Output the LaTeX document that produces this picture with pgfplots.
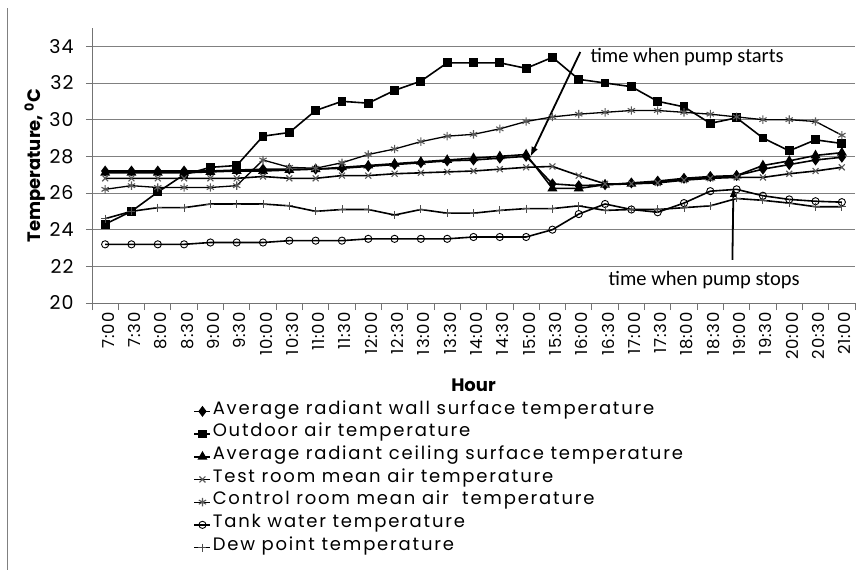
\documentclass[border=0pt]{standalone}
\usepackage{fontspec}
\setmainfont{Poppins}
\newfontfamily\calibri{Carlito}
\newfontfamily\legfont[LetterSpace=10]{Poppins}
\newfontfamily\tickfont[LetterSpace=5]{Poppins}
\usepackage{pgfplots}
\pgfplotsset{compat=1.18}
\usetikzlibrary{arrows.meta}

\pgfplotstableread{
i wall outdoor ceiling test control tank dew
0  27.20 24.30 27.10 26.80 26.20 23.20 24.60
1  27.20 25.00 27.10 26.80 26.40 23.20 25.00
2  27.20 26.05 27.10 26.80 26.30 23.20 25.20
3  27.20 27.00 27.10 26.80 26.30 23.20 25.20
4  27.20 27.40 27.15 26.80 26.30 23.30 25.40
5  27.25 27.50 27.20 26.80 26.40 23.30 25.40
6  27.30 29.10 27.20 26.90 27.80 23.30 25.40
7  27.30 29.30 27.25 26.80 27.40 23.40 25.30
8  27.30 30.50 27.30 26.80 27.35 23.40 25.00
9  27.35 31.00 27.40 26.95 27.65 23.40 25.10
10 27.45 30.90 27.50 26.95 28.10 23.50 25.10
11 27.55 31.60 27.60 27.05 28.40 23.50 24.80
12 27.65 32.10 27.70 27.10 28.80 23.50 25.10
13 27.75 33.10 27.80 27.15 29.10 23.50 24.90
14 27.80 33.10 27.90 27.20 29.20 23.60 24.90
15 27.90 33.10 28.00 27.30 29.50 23.60 25.05
16 28.00 32.80 28.10 27.40 29.90 23.60 25.15
17 26.50 33.40 26.25 27.45 30.15 24.00 25.15
18 26.40 32.20 26.25 26.95 30.30 24.85 25.30
19 26.45 32.00 26.45 26.50 30.40 25.40 25.05
20 26.55 31.80 26.50 26.50 30.50 25.10 25.10
21 26.65 31.00 26.60 26.55 30.50 24.95 25.10
22 26.80 30.70 26.75 26.70 30.40 25.45 25.20
23 26.90 29.80 26.85 26.80 30.30 26.10 25.30
24 26.95 30.10 26.95 26.85 30.15 26.20 25.70
25 27.30 29.00 27.50 26.85 30.00 25.85 25.60
26 27.55 28.30 27.75 27.05 30.00 25.65 25.45
27 27.80 28.90 28.05 27.20 29.90 25.55 25.25
28 27.95 28.70 28.20 27.40 29.15 25.50 25.25
}\datatable

\begin{document}
\begin{tikzpicture}
\useasboundingbox (0bp,0bp) rectangle (862bp,570bp);
\draw[black!50, line width=1bp] (7bp,0bp) -- (7bp,562bp);
\begin{axis}[
  at={(92bp,267bp)}, anchor=south west,
  scale only axis, width=763bp, height=275bp,
  xmin=-0.5, xmax=28.5, ymin=20, ymax=35,
  axis x line*=bottom, axis y line*=left,
  axis line style={black!55, line width=0.9bp},
  ytick={20,22,...,34},
  ymajorgrids, grid style={black!50, line width=0.9bp},
  xtick={0,...,28},
  xticklabels={7:00,7:30,8:00,8:30,9:00,9:30,10:00,10:30,11:00,11:30,12:00,12:30,13:00,13:30,14:00,14:30,15:00,15:30,16:00,16:30,17:00,17:30,18:00,18:30,19:00,19:30,20:00,20:30,21:00},
  minor xtick={-0.5,0.5,...,28.5},
  tick align=outside,
  major tick length=6bp, minor tick length=7bp,
  major x tick style={draw=none},
  minor x tick style={black!55, line width=0.9bp},
  major y tick style={black!55, line width=0.9bp},
  /pgf/number format/assume math mode=true,
  yticklabel style={font=\tickfont\fontsize{19bp}{21bp}\selectfont, xshift=-9bp},
  xticklabel style={font=\tickfont\fontsize{16.5bp}{18bp}\selectfont, rotate=90, anchor=east, yshift=-3bp},
  ylabel={\textbf{Temperature, \textsuperscript{0}C}},
  ylabel style={font=\fontsize{18bp}{20bp}\selectfont, at={(axis description cs:-0.075,0.5)}, anchor=center, rotate=0},
  xlabel={\textbf{Hour}},
  xlabel style={font=\fontsize{18bp}{20bp}\selectfont, at={(axis description cs:0.5,-0.300)}, anchor=center},
  legend style={draw=none, fill=none, at={(axis description cs:0.133,-0.352)}, anchor=north west,
    font=\legfont\fontsize{18bp}{20bp}\selectfont, inner sep=0pt, row sep=0pt,
    nodes={inner xsep=1.5bp, inner ysep=0pt, text height=14bp, text depth=8.7bp}},
  legend cell align=left,
  legend image code/.code={\draw[mark repeat=2,mark phase=2,#1] plot coordinates {(0bp,0bp) (8bp,0bp) (16bp,0bp)};},
  every axis plot/.append style={black, line width=1.6bp},
]
\addplot[mark=diamond*, mark size=4.2bp, mark options={solid}] table[x=i,y=wall] {\datatable};
\addlegendentry{Average radiant wall surface temperature}
\addplot[mark=square*, mark size=3.6bp] table[x=i,y=outdoor] {\datatable};
\addlegendentry{Outdoor air temperature}
\addplot[mark=triangle*, mark size=4.2bp] table[x=i,y=ceiling] {\datatable};
\addlegendentry{Average radiant ceiling surface temperature}
\addplot[mark=x, mark size=4.2bp, mark options={black!65, line width=1.1bp}] table[x=i,y=test] {\datatable};
\addlegendentry{Test room mean air temperature}
\addplot[line width=1.3bp, mark=asterisk, mark size=4.2bp, mark options={black!65, line width=1.1bp}] table[x=i,y=control] {\datatable};
\addlegendentry{Control room mean air\ \ temperature}
\addplot[mark=o, mark size=3.6bp, mark options={fill=white, line width=0.9bp}] table[x=i,y=tank] {\datatable};
\addlegendentry{Tank water temperature}
\addplot[mark=+, mark size=4bp, mark options={black!70, line width=0.9bp}] table[x=i,y=dew] {\datatable};
\addlegendentry{Dew point temperature}

\draw[line width=1.8bp, -{Latex[length=10bp,width=7bp]}] (axis cs:18.06,33.69) -- (axis cs:16.16,27.97);
\draw[line width=1.8bp, -{Latex[length=10bp,width=7bp]}] (axis cs:23.84,22.35) -- (axis cs:23.88,26.33);
\node[anchor=west, inner sep=0pt, font=\calibri\fontsize{20.5bp}{22bp}\selectfont] at (axis cs:18.44,33.42) {time when pump starts};
\node[anchor=west, inner sep=0pt, font=\calibri\fontsize{20.5bp}{22bp}\selectfont] at (axis cs:19.13,21.25) {time when pump stops};
\end{axis}
\end{tikzpicture}
\end{document}
